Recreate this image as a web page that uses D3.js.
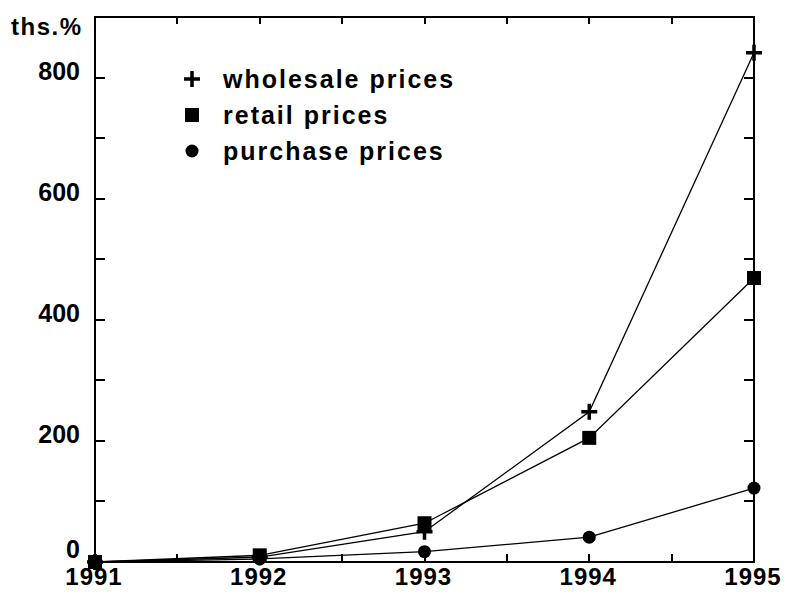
<!DOCTYPE html>
<html lang="en">
<head>
<meta charset="UTF-8">
<title>Price growth</title>
<script src="https://cdn.jsdelivr.net/npm/d3@7"></script>
<style>
body { margin: 0; background: #fff; }
svg { display: block; }
.lbl { font-family: "Liberation Sans", Arial, sans-serif; font-weight: bold; fill: #000; }
</style>
</head>
<body>
<script>
// values (thousand %)
var years = [1991, 1992, 1993, 1994, 1995];
var wholesale = [0, 8, 50, 248, 841];
var retail = [0, 11, 64, 205, 469];
var purchase = [0, 5, 17, 41, 122];

var yTicks = [0, 200, 400, 600, 800];
var legendLabels = ["wholesale prices", "retail prices", "purchase prices"];

var width = 787, height = 592;
var margin = {top: 17, right: 33, bottom: 30, left: 95};

var svg = d3.select("body").append("svg")
    .attr("width", width)
    .attr("height", height);

var x = d3.scaleLinear()
    .domain([1991, 1995])
    .range([margin.left, width - margin.right]);

var y = d3.scaleLinear()
    .domain([0, 900])
    .range([height - margin.bottom, margin.top]);

// frame
svg.append("rect")
    .attr("x", x(1991)).attr("y", y(900))
    .attr("width", x(1995) - x(1991))
    .attr("height", y(0) - y(900))
    .attr("fill", "none").attr("stroke", "#000").attr("stroke-width", 2);

// ticks: every 100 on both sides, every half year top and bottom
var yMinor = d3.range(100, 900, 100);
var xMinor = d3.range(1991.5, 1995, 0.5);

svg.append("g").selectAll("line").data(yMinor).enter().append("line")
    .attr("x1", x(1991)).attr("x2", x(1991) + 10)
    .attr("y1", d => Math.round(y(d))).attr("y2", d => Math.round(y(d)))
    .attr("stroke", "#000").attr("stroke-width", 2);
svg.append("g").selectAll("line").data(yMinor).enter().append("line")
    .attr("x1", x(1995)).attr("x2", x(1995) - 10)
    .attr("y1", d => Math.round(y(d))).attr("y2", d => Math.round(y(d)))
    .attr("stroke", "#000").attr("stroke-width", 2);
svg.append("g").selectAll("line").data(xMinor).enter().append("line")
    .attr("x1", d => Math.round(x(d))).attr("x2", d => Math.round(x(d)))
    .attr("y1", y(0)).attr("y2", y(0) - 8)
    .attr("stroke", "#000").attr("stroke-width", 2);
svg.append("g").selectAll("line").data(xMinor).enter().append("line")
    .attr("x1", d => Math.round(x(d))).attr("x2", d => Math.round(x(d)))
    .attr("y1", y(900)).attr("y2", y(900) + 7)
    .attr("stroke", "#000").attr("stroke-width", 2);

// tick labels
svg.append("g").selectAll("text").data(yTicks).enter().append("text")
    .attr("class", "lbl")
    .attr("x", 80).attr("y", d => d === 0 ? y(d) - 4 : y(d) + 2)
    .attr("text-anchor", "end")
    .style("font-size", "25px")
    .text(d => d);

svg.append("g").selectAll("text").data(years).enter().append("text")
    .attr("class", "lbl")
    .attr("x", d => x(d) - 1).attr("y", 585)
    .attr("text-anchor", "middle")
    .style("font-size", "24px")
    .style("letter-spacing", "1px")
    .text(d => d);

svg.append("text")
    .attr("class", "lbl")
    .attr("x", 11).attr("y", 35)
    .style("font-size", "24px")
    .style("letter-spacing", "1.5px")
    .text("ths.%");

// lines
var line = d3.line()
    .x((d, i) => x(years[i]))
    .y(d => y(d));

[wholesale, retail, purchase].forEach(function(s) {
    svg.append("path")
        .datum(s)
        .attr("d", line)
        .attr("fill", "none")
        .attr("stroke", "#000")
        .attr("stroke-width", 1.3);
});

// markers
function plus(g, cx, cy) {
    g.append("path")
        .attr("d", "M" + (cx - 8) + "," + cy + "H" + (cx + 8) + "M" + cx + "," + (cy - 8) + "V" + (cy + 8))
        .attr("stroke", "#000").attr("stroke-width", 3.5).attr("fill", "none");
}
function square(g, cx, cy) {
    g.append("rect")
        .attr("x", cx - 7).attr("y", cy - 7)
        .attr("width", 14).attr("height", 14)
        .attr("fill", "#000");
}
function dot(g, cx, cy) {
    g.append("circle")
        .attr("cx", cx).attr("cy", cy).attr("r", 6.5)
        .attr("fill", "#000");
}

var mk = svg.append("g");
wholesale.forEach((v, i) => plus(mk, x(years[i]), y(v)));
purchase.forEach((v, i) => dot(mk, x(years[i]), y(v)));
retail.forEach((v, i) => square(mk, x(years[i]), y(v)));

// legend
var legendY = [79, 115, 151];
var markFns = [plus, square, dot];
var lg = svg.append("g");
legendLabels.forEach(function(t, i) {
    markFns[i](lg, 192, legendY[i]);
    lg.append("text")
        .attr("class", "lbl")
        .attr("x", 223).attr("y", legendY[i] + 9)
        .style("font-size", "25px")
        .style("letter-spacing", "2px")
        .text(t);
});
</script>
</body>
</html>
